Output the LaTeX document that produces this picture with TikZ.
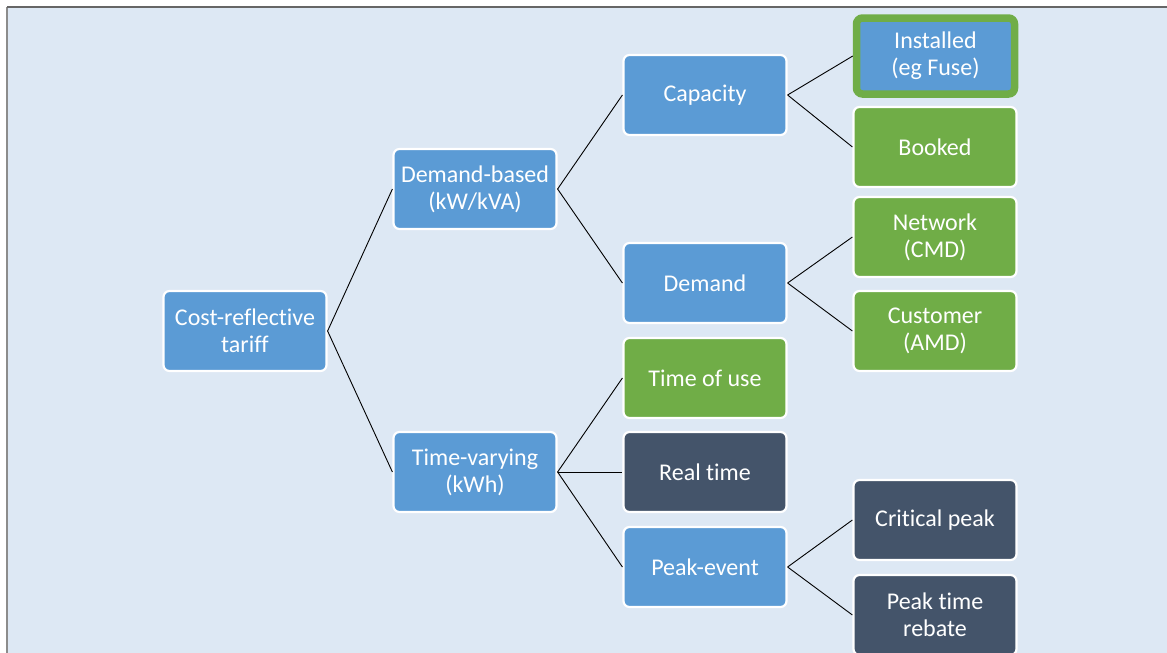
\documentclass[tikz,border=0pt]{standalone}
\usepackage{fontspec}
\setmainfont{Carlito}[Ligatures=NoCommon]
\definecolor{bgc}{HTML}{DDE8F4}
\definecolor{bluec}{HTML}{5B9BD5}
\definecolor{greenc}{HTML}{70AD47}
\definecolor{darkc}{HTML}{44546A}
\tikzset{
  box/.style={rectangle, rounded corners=6pt, minimum width=163pt, minimum height=80pt,
    inner sep=0pt, draw=white, line width=2.2pt, text=white, align=center,
    font=\fontsize{24}{27}\selectfont},
  bluebox/.style={box, fill=bluec},
  greenbox/.style={box, fill=greenc},
  darkbox/.style={box, fill=darkc},
  link/.style={draw=black, line width=0.9pt}
}
\begin{document}
\begin{tikzpicture}[x=1pt,y=-1pt]
\useasboundingbox (0,0) rectangle (1167,653);
\fill[white] (0,0) rectangle (1167,653);
\fill[bgc] (7,7) rectangle (1167,653);
\draw[line width=1.2pt, color=black!45] (7,7) -- (7,653);
\draw[line width=1.2pt, color=black!60] (7,7) -- (1167,7);

\node[bluebox] (root) at (245,331) {Cost-reflective\\tariff};
\node[bluebox] (db) at (475,189) {Demand-based\\(kW/kVA)};
\node[bluebox] (tv) at (475,472) {Time-varying\\(kWh)};
\node[bluebox] (cap) at (705,95) {Capacity};
\node[bluebox] (dem) at (705,283) {Demand};
\node[greenbox] (tou) at (705,378) {Time of use};
\node[darkbox] (rt) at (705,472) {Real time};
\node[bluebox] (pe) at (705,567) {Peak-event};
\node[bluebox, draw=greenc, line width=7.5pt, minimum width=158pt, minimum height=76pt] (inst) at (935.5,56) {Installed\\(eg Fuse)};
\node[greenbox] (book) at (935,147) {Booked};
\node[greenbox] (net) at (935,237) {Network\\(CMD)};
\node[greenbox] (cust) at (935,331) {Customer\\(AMD)};
\node[darkbox] (cp) at (935,520) {Critical peak};
\node[darkbox] (ptr) at (935,615) {Peak time\\rebate};

\draw[link] (root.east) -- (db.west);
\draw[link] (root.east) -- (tv.west);
\draw[link] (db.east) -- (cap.west);
\draw[link] (db.east) -- (dem.west);
\draw[link] (tv.east) -- (tou.west);
\draw[link] (tv.east) -- (rt.west);
\draw[link] (tv.east) -- (pe.west);
\draw[link] (cap.east) -- (inst.west);
\draw[link] (cap.east) -- (book.west);
\draw[link] (dem.east) -- (net.west);
\draw[link] (dem.east) -- (cust.west);
\draw[link] (pe.east) -- (cp.west);
\draw[link] (pe.east) -- (ptr.west);
\end{tikzpicture}
\end{document}
